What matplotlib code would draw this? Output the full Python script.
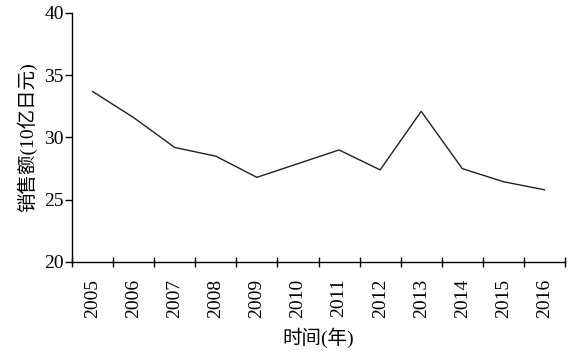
import matplotlib.pyplot as plt

plt.rcParams['font.family'] = ['Liberation Serif', 'Noto Sans CJK SC']
plt.rcParams['font.size'] = 14

years = ['2005', '2006', '2007', '2008', '2009', '2010',
         '2011', '2012', '2013', '2014', '2015', '2016']
sales = [33.7, 31.6, 29.2, 28.5, 26.8, 27.9,
         29.0, 27.4, 32.1, 27.5, 26.45, 25.8]

fig = plt.figure(figsize=(5.77, 3.56), dpi=100)
ax = fig.add_axes([72 / 577, 1 - 262 / 356, (565 - 72) / 577, (262 - 13) / 356])

x = list(range(len(years)))
ax.plot(x, sales, color='#231f20', linewidth=1.0)

ax.set_xlim(-0.5, len(years) - 0.5)
ax.set_ylim(20, 40)
ax.set_yticks([20, 25, 30, 35, 40])

# ticks between categories, labels at the centres
ax.set_xticks([i - 0.5 for i in range(len(years) + 1)])
ax.set_xticklabels([])
ax.set_xticks(x, minor=True)
ax.set_xticklabels(years, minor=True, rotation=90)
ax.tick_params(axis='x', which='major', direction='inout', length=7, width=1)
ax.tick_params(axis='x', which='minor', length=0, pad=12)
ax.tick_params(axis='y', direction='out', length=5, width=1, pad=1)

for side in ['top', 'right']:
    ax.spines[side].set_visible(False)
for side in ['left', 'bottom']:
    ax.spines[side].set_linewidth(1)

ax.set_ylabel('销售额(10亿日元)', fontsize=14, labelpad=5)
ax.set_xlabel('时间(年)', fontsize=14, labelpad=7)

fig.savefig('out.png', dpi=100)
